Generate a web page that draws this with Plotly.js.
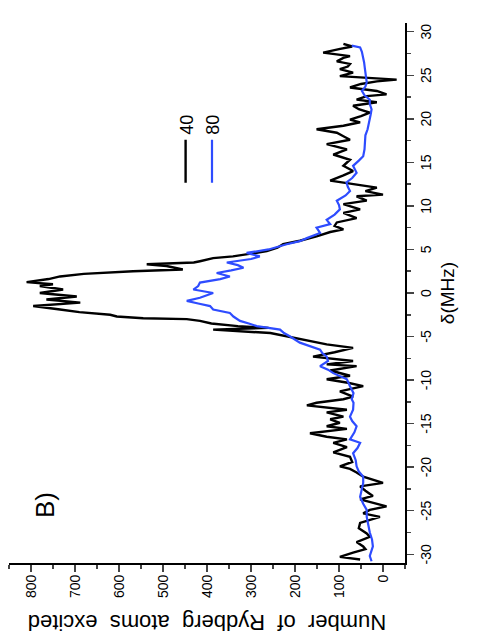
<!DOCTYPE html>
<html>
<head>
<meta charset="utf-8">
<script src="https://cdn.plot.ly/plotly-3.0.1.min.js"></script>
<style>
html, body { margin: 0; padding: 0; overflow: hidden; width: 479px; height: 644px; background: #fff; }
#wrap { position: absolute; left: 0; top: 0; width: 644px; height: 479px; transform-origin: 0 0; transform: translate(0px, 644px) rotate(-90deg); }
</style>
</head>
<body>
<div id="wrap"><div id="chart"></div></div>
<script>
// Series "40" (black): detuning (MHz) and number of Rydberg atoms excited
const delta40 = [-30.6,-30.3,-29.8,-29.4,-29.1,-28.6,-28.0,-27.6,-27.0,-26.4,-25.7,-25.3,-24.9,-24.5,-23.7,-23.3,-22.7,-22.2,-21.8,-21.1,-20.6,-20.2,-19.9,-19.4,-18.8,-18.3,-17.7,-17.2,-16.8,-16.5,-16.1,-15.6,-15.3,-14.9,-14.5,-14.2,-13.7,-13.4,-12.9,-12.6,-12.2,-11.9,-11.3,-10.7,-10.3,-9.9,-9.5,-8.9,-8.4,-8.2,-7.8,-7.3,-6.8,-6.3,-5.9,-5.3,-4.9,-4.6,-4.2,-4.0,-3.8,-3.5,-3.2,-3.0,-2.9,-2.7,-2.5,-2.2,-1.9,-1.5,-1.1,-0.75,-0.4,0.0,0.4,0.8,1.0,1.25,1.6,1.9,2.2,2.5,2.7,3.1,3.3,3.5,3.65,4.0,4.2,4.5,4.8,5.2,5.6,6.0,6.5,7.0,7.3,7.7,8.1,8.6,9.2,9.6,10.2,10.6,11.1,11.3,11.7,12.1,12.5,12.9,13.5,14.0,14.6,15.3,15.9,16.5,17.1,17.6,18.0,18.4,18.8,19.2,19.6,19.9,20.3,20.7,21.1,21.5,21.9,22.2,22.6,22.8,23.2,23.6,24.0,24.3,24.5,24.7,24.9,25.3,25.7,26.0,26.3,26.6,27.0,27.2,27.6,28.0,28.3,28.6];
const counts40 = [52,98,68,40,45,60,30,37,55,52,7,45,30,-8,52,23,40,52,0,45,60,75,98,70,75,113,82,113,82,128,166,82,128,98,120,90,128,82,173,151,90,68,98,45,80,128,75,120,60,128,68,159,110,68,128,189,230,256,386,260,330,390,416,446,545,605,620,690,734,795,688,765,696,780,727,780,750,810,760,734,680,568,455,492,537,430,416,386,341,300,264,240,227,189,151,120,90,110,105,60,90,52,90,37,60,0,40,14,70,120,90,68,90,75,113,82,128,75,90,105,151,90,52,75,50,30,55,68,14,60,37,-8,14,75,50,14,-31,45,98,68,98,80,75,105,90,75,136,100,70,90];

// Series "80" (blue)
const delta80 = [-30.8,-30.2,-29.1,-28.3,-27.5,-26.5,-25.7,-24.9,-24.2,-23.4,-22.5,-21.8,-21.1,-20.5,-19.9,-19.2,-18.4,-17.8,-17.2,-16.8,-16.0,-15.3,-14.7,-14.2,-13.4,-12.6,-12.2,-11.5,-10.7,-9.9,-9.2,-8.8,-8.4,-7.8,-7.3,-6.9,-6.5,-6.1,-5.7,-5.0,-4.6,-4.2,-3.8,-3.5,-3.2,-2.7,-2.3,-1.9,-1.5,-1.2,-0.9,-0.55,0.0,0.4,0.8,1.2,1.6,1.9,2.3,2.6,2.9,3.2,3.5,3.9,4.2,4.6,5.0,5.6,5.95,6.3,6.9,7.5,7.9,8.4,9.0,9.6,10.1,10.6,11.2,11.7,12.2,12.7,13.2,13.8,14.6,15.2,15.7,16.5,17.3,18.1,18.8,19.4,19.9,20.5,21.1,21.7,22.2,22.7,23.2,23.7,24.2,25.0,25.7,26.5,27.2,27.7,28.2,28.4];
const counts80 = [26,30,23,25,30,33,37,37,45,52,48,45,45,55,60,62,68,58,52,75,65,60,70,75,68,67,71,67,75,82,113,125,143,125,128,138,143,166,189,211,225,234,287,305,325,340,348,386,393,420,446,416,386,431,420,416,370,348,378,345,317,330,355,300,280,310,260,219,189,173,143,151,120,128,110,98,100,105,85,75,80,83,70,60,68,55,45,42,41,40,35,32,30,28,26,30,30,42,48,40,37,40,41,43,45,48,52,71];

const seriesNames = ["40", "80"];
const deltaTicks = [-30, -25, -20, -15, -10, -5, 0, 5, 10, 15, 20, 25, 30];
const deltaTickText = ["-30", "-25", "-20", "-15", "-10", "-5", "0", "5", "10", "15", "20", "25", "30"];
const countTicks = [0, 100, 200, 300, 400, 500, 600, 700, 800];
const xTitle = "δ(MHz)";
const yTitle = "Number\u00a0 of\u00a0 Rydberg\u00a0 atoms\u00a0 excited";
const panelLabel = "B)";

const FONT = "Liberation Sans, Arial, Helvetica, sans-serif";

const traces = [
  { x: delta40, y: counts40, type: "scatter", mode: "lines", name: seriesNames[0],
    line: { color: "#000000", width: 2.4 } },
  { x: delta80, y: counts80, type: "scatter", mode: "lines", name: seriesNames[1],
    line: { color: "#2e4cff", width: 2.2 } }
];

const layout = {
  width: 644, height: 479,
  margin: { l: 81, r: 23, t: 9, b: 74 },
  paper_bgcolor: "#fff", plot_bgcolor: "#fff",
  font: { family: FONT, color: "#000", size: 14 },
  showlegend: true,
  legend: { x: 0.695, y: 0.6, xanchor: "left", yanchor: "top", font: { size: 18, family: FONT },
            bgcolor: "rgba(0,0,0,0)", itemwidth: 43, tracegroupgap: 0 },
  xaxis: {
    range: [-31, 31], tickmode: "array", tickvals: deltaTicks, ticktext: deltaTickText,
    ticks: "outside", ticklen: 7, tickwidth: 1.5,
    showline: true, linewidth: 1.8, linecolor: "#000", showgrid: false, zeroline: false,
    tickfont: { size: 14, family: FONT }, tickangle: 0,
    minor: { dtick: 2.5, tick0: 0, ticks: "outside", ticklen: 4, tickwidth: 1.5, showgrid: false },
    title: { text: xTitle, font: { size: 19, family: FONT }, standoff: 8 }
  },
  yaxis: {
    range: [-50, 850], tickmode: "array", tickvals: countTicks,
    ticks: "outside", ticklen: 7, tickwidth: 1.5,
    showline: true, linewidth: 1.8, linecolor: "#000", showgrid: false, zeroline: false,
    tickfont: { size: 14, family: FONT },
    minor: { dtick: 50, tick0: 0, ticks: "outside", ticklen: 4, tickwidth: 1.5, showgrid: false },
    title: { text: yTitle, font: { size: 22, family: FONT }, standoff: 10 }
  },
  annotations: [
    { text: panelLabel, xref: "paper", yref: "paper", x: 0.107, y: 0.91,
      showarrow: false, font: { size: 26, family: FONT }, xanchor: "center", yanchor: "middle" }
  ]
};

Plotly.newPlot("chart", traces, layout, { staticPlot: true, displayModeBar: false });
</script>
</body>
</html>
